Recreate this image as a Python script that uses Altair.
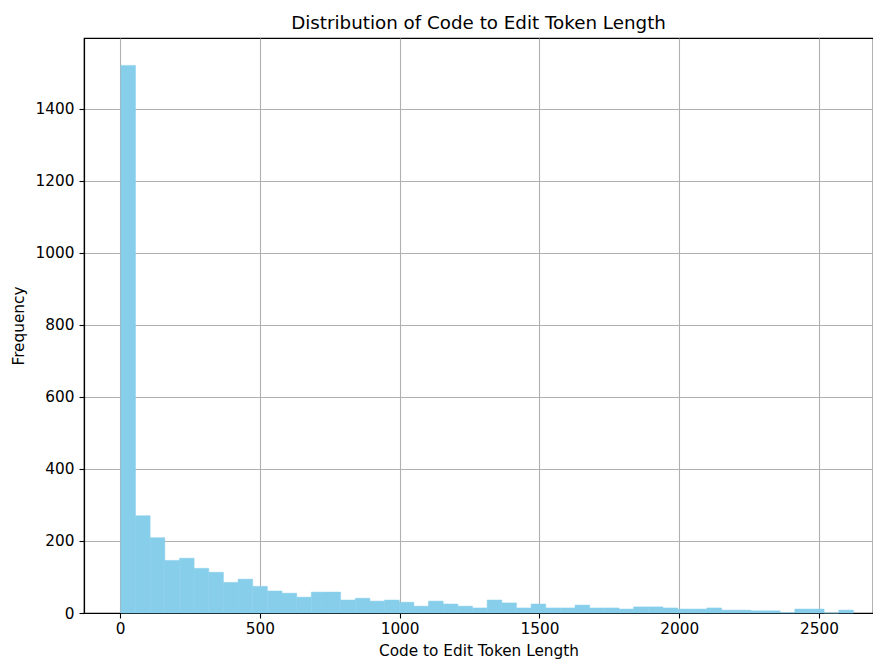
import altair as alt
import pandas as pd

# histogram definition
bin_low = 3.0
bin_width = 52.4
counts = [1520, 270, 209, 146, 152, 124, 113, 85, 94, 74, 61, 55, 44,
          58, 58, 36, 41, 33, 36, 30, 19, 33, 25, 19, 14, 36,
          28, 14, 25, 14, 14, 22, 14, 14, 11, 17, 17, 14, 11,
          11, 14, 8, 8, 6, 6, 1, 11, 11, 0, 8]
x_ticks = [0, 500, 1000, 1500, 2000, 2500]
y_ticks = [0, 200, 400, 600, 800, 1000, 1200, 1400]

df = pd.DataFrame({
    "start": [bin_low + i * bin_width for i in range(len(counts))],
    "end": [bin_low + (i + 1) * bin_width for i in range(len(counts))],
    "count": counts,
    "base": [0] * len(counts),
})

FONT = "DejaVu Sans"
BAR = "#87CEEB"

chart = alt.Chart(df).mark_bar(color=BAR, stroke=BAR, strokeWidth=0.5, orient="vertical").encode(
    x=alt.X("start:Q",
            scale=alt.Scale(domain=[-128.8, 2693], nice=False, zero=False, padding=0),
            axis=alt.Axis(values=x_ticks, title="Code to Edit Token Length", format="d",
                          titleY=42, titleBaseline="alphabetic")),
    x2="end:Q",
    y=alt.Y("count:Q",
            scale=alt.Scale(domain=[0, 1596], nice=False, padding=0),
            axis=alt.Axis(values=y_ticks, title="Frequency", format="d")),
    y2="base:Q",
).properties(
    width=789,
    height=575,
    title=alt.TitleParams("Distribution of Code to Edit Token Length",
                          font=FONT, fontSize=18.3, fontWeight="normal",
                          color="black", offset=5),
    autosize=alt.AutoSizeParams(type="none"),
    padding={"left": 76, "top": 30, "right": 0, "bottom": 46},
).configure_view(
    stroke="black", strokeWidth=1.2
).configure_axis(
    zindex=1,
    grid=True, gridColor="#b0b0b0", gridWidth=1.1,
    domainColor="black", domainWidth=1.2,
    tickColor="black", tickSize=5, tickWidth=1.1,
    labelFont=FONT, labelFontSize=15.3, labelColor="black", labelPadding=5,
    titleFont=FONT, titleFontSize=15.3, titleFontWeight="normal", titleColor="black",
).configure_axisX(labelPadding=3).configure_axisY(titlePadding=9)

chart.save("out.html", embed_options={"renderer": "svg", "actions": False})
